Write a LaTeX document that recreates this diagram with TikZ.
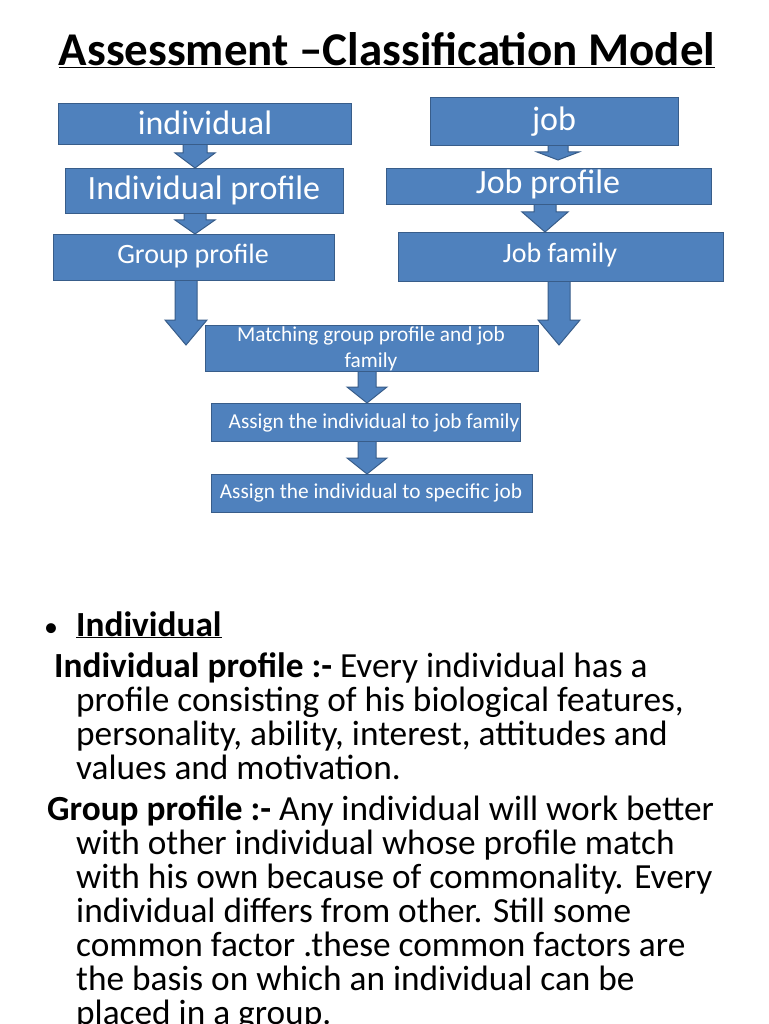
\documentclass[tikz,border=0pt]{standalone}
\usepackage{fontspec}
\setmainfont{Carlito}
\newcommand\myul[1]{\underline{#1}}
\definecolor{bfill}{HTML}{4F81BD}
\definecolor{bline}{HTML}{385D8A}
\begin{document}
\begin{tikzpicture}[x=1pt,y=-1pt,
  box/.style={draw=bline,fill=bfill,line width=1pt},
  barrow/.style={draw=bline,fill=bfill,line width=1pt},
  lab/.style={text=white,inner sep=0pt},
  body/.style={anchor=base west,inner sep=0pt,font=\fontsize{35.3}{40}\selectfont}]
\useasboundingbox[fill=white] (0,0) rectangle (768,1024);
\newcommand\barr[6]{\draw[barrow] (#1-#4,#2) -- (#1+#4,#2) -- (#1+#4,#3-#6) -- (#1+#5,#3-#6) -- (#1,#3) -- (#1-#5,#3-#6) -- (#1-#4,#3-#6) -- cycle;}
\barr{195}{141}{168}{12}{20}{15}
\barr{195}{212}{234}{11}{20}{14}
\barr{558}{143}{160}{10}{21}{8}
\barr{545}{203}{232}{11}{23}{20}
\barr{186}{279}{345}{11}{21}{25}
\barr{559}{279}{345}{11}{21}{25}
\barr{367}{370}{403}{9}{20}{16}
\barr{367}{440}{474}{9}{20}{16}
\node[box,minimum width=293pt,minimum height=41pt,anchor=north west] (ind) at (58,103) {};
\node[lab,font=\fontsize{34}{38}\selectfont] at (205,123) {individual};
\node[box,minimum width=248pt,minimum height=48pt,anchor=north west] (job) at (430,97) {};
\node[lab,font=\fontsize{34}{38}\selectfont] at (554,122) {job};
\node[box,minimum width=278pt,minimum height=45pt,anchor=north west] (indp) at (65,168) {};
\node[lab,font=\fontsize{34}{38}\selectfont] at (204,190) {Individual profile};
\node[box,minimum width=325pt,minimum height=36pt,anchor=north west] (jobp) at (386,168) {};
\node[lab,font=\fontsize{34}{38}\selectfont] at (548,184) {Job profile};
\node[box,minimum width=281pt,minimum height=46pt,anchor=north west] (grp) at (53,234) {};
\node[lab,font=\fontsize{28}{32}\selectfont] at (193,256) {Group profile};
\node[box,minimum width=325pt,minimum height=49pt,anchor=north west] (jf) at (398,232) {};
\node[lab,font=\fontsize{28}{32}\selectfont] at (560,255) {Job family};
\node[box,minimum width=333pt,minimum height=46pt,anchor=north west] (match) at (205,325) {};
\node[lab,font=\fontsize{21.3}{26}\selectfont,align=center] at (371,349) {Matching group profile and job\\family};
\node[box,minimum width=309pt,minimum height=38pt,anchor=north west] (asf) at (211,403) {};
\node[lab,font=\fontsize{21.3}{26}\selectfont] at (374,423) {Assign the individual to job family};
\node[box,minimum width=321pt,minimum height=38pt,anchor=north west] (ass) at (211,474) {};
\node[lab,font=\fontsize{21.3}{26}\selectfont] at (371,493) {Assign the individual to specific job};
\node[inner sep=0pt,font=\fontsize{47}{52}\selectfont\bfseries] (title) at (387,50) {\myul{Assessment –Classification Model}};
\node[body,font=\fontsize{28}{33}\selectfont] (b0) at (44,636) {•};
\node[body] (l1) at (76,636) {\textbf{\myul{Individual}}};
\node[body] (l2) at (46,677) {\ \textbf{Individual profile :-} Every individual has a};
\node[body] (l3) at (76,711) {profile consisting of his biological features,};
\node[body] (l4) at (76,745) {personality, ability, interest, attitudes and};
\node[body] (l5) at (76,779) {values and motivation.};
\node[body] (l6) at (47,820) {\textbf{Group profile :-} Any individual will work better};
\node[body] (l7) at (76,854) {with other individual whose profile match};
\node[body] (l8) at (76,888) {with his own because of commonality. Every};
\node[body] (l9) at (76,922) {individual differs from other. Still some};
\node[body] (l10) at (76,956) {common factor .these common factors are};
\node[body] (l11) at (76,990) {the basis on which an individual can be};
\node[body] (l12) at (76,1024) {placed in a group.};
\end{tikzpicture}
\end{document}
